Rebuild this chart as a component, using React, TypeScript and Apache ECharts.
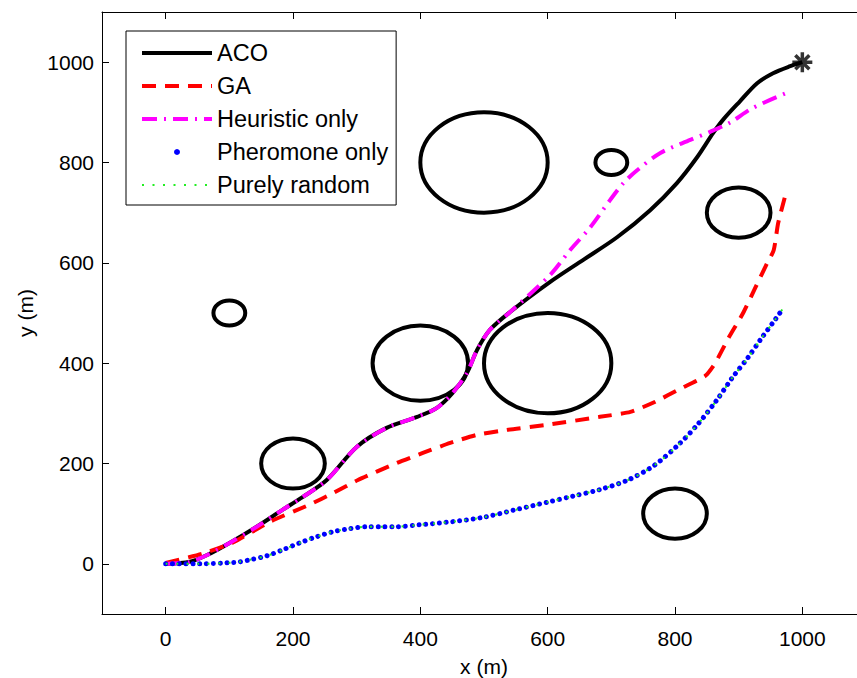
import React, { useEffect, useRef } from 'react';
import * as echarts from 'echarts';

const FONT = '"Liberation Sans", Arial, Helvetica, sans-serif';

// Obstacles: centres and radii (m)
const obstacleX = [500, 700, 100, 400, 600, 200, 800, 900];
const obstacleY = [800, 800, 500, 400, 400, 200, 100, 700];
const obstacleR = [100, 25, 25, 75, 100, 50, 50, 50];

// Goal
const goal = [1000, 1000];

// Paths
const acoPath = [
  [0, 0], [38, 4], [66, 18], [101, 42], [143, 74], [184, 108], [215, 133], [253, 167],
  [300, 233], [347, 271], [395, 293], [426, 311], [451, 341], [473, 380], [489, 426],
  [509, 466], [541, 502], [604, 562], [656, 606], [709, 651], [761, 705], [803, 759],
  [835, 811], [860, 859], [876, 886], [902, 922], [929, 958], [954, 978], [981, 992],
  [1000, 1000],
];

const gaPath = [
  [0, 2], [57, 20], [105, 42], [164, 84], [226, 118], [263, 141], [302, 167], [363, 201],
  [404, 221], [447, 241], [489, 257], [536, 267], [599, 277], [682, 293], [730, 303],
  [769, 323], [808, 349], [847, 374], [863, 400], [884, 450], [907, 500], [926, 550],
  [945, 600], [955, 625], [962, 679], [973, 733],
];

const heuristicPath = [
  [0, 0], [38, 4], [66, 18], [101, 42], [143, 74], [184, 108], [215, 133], [253, 167],
  [300, 233], [347, 271], [395, 293], [426, 311], [451, 341], [473, 380], [489, 426],
  [509, 466], [541, 502], [604, 576], [635, 625], [667, 671], [698, 725], [719, 759],
  [741, 785], [777, 819], [824, 845], [855, 861], [887, 880], [921, 908], [978, 940],
];

const pheromonePath = [
  [0, 0], [20, 0], [53, 0], [97, 2], [116, 4], [132, 8], [159, 16], [184, 28], [211, 42],
  [237, 54], [263, 64], [289, 70], [316, 74], [341, 74], [360, 74], [400, 78], [450, 84],
  [500, 93], [550, 108], [600, 123], [640, 135], [682, 148], [726, 167], [766, 195],
  [805, 237], [835, 277], [866, 327], [890, 371], [914, 410], [936, 450], [958, 488],
  [969, 508],
];

const randomPath = pheromonePath;

const xTicks = { min: -100, max: 1100, step: 200 };
const yTicks = { min: -100, max: 1100, step: 200 };

const legendNames = ['ACO', 'GA', 'Heuristic only', 'Pheromone only', 'Purely random'];

export default function App() {
  const ref = useRef<HTMLDivElement>(null);

  useEffect(() => {
    const chart = echarts.init(ref.current as HTMLDivElement, null, { renderer: 'svg' });

    const obstacles = obstacleX.map((x, i) => [x, obstacleY[i], obstacleR[i]]);

    const axisCommon = {
      type: 'value',
      minInterval: xTicks.step,
      maxInterval: xTicks.step,
      splitLine: { show: false },
      axisLine: { show: true, onZero: false, lineStyle: { color: '#000', width: 1 } },
      axisTick: { show: true, inside: true, length: 7, lineStyle: { color: '#000', width: 1 } },
    };

    const fmt = (v: number) => String(v);

    chart.setOption({
      animation: false,
      backgroundColor: '#ffffff',
      textStyle: { fontFamily: FONT },
      grid: { left: 102, top: 12, width: 764, height: 602, containLabel: false, outerBoundsMode: 'none' },
      xAxis: [
        {
          ...axisCommon,
          min: xTicks.min,
          max: xTicks.max,
          position: 'bottom',
          axisLabel: {
            showMinLabel: false,
            showMaxLabel: false,
            color: '#000',
            fontSize: 21,
            fontFamily: FONT,
            margin: 14,
            formatter: fmt,
          },
          name: 'x (m)',
          nameLocation: 'middle',
          nameGap: 42,
          nameTextStyle: { color: '#000', fontSize: 21, fontFamily: FONT },
        },
        {
          ...axisCommon,
          min: xTicks.min,
          max: xTicks.max,
          position: 'top',
          axisLabel: { show: false },
        },
      ],
      yAxis: [
        {
          ...axisCommon,
          min: yTicks.min,
          max: yTicks.max,
          position: 'left',
          axisLabel: {
            showMinLabel: false,
            showMaxLabel: false,
            color: '#000',
            fontSize: 21,
            fontFamily: FONT,
            margin: 8,
            formatter: fmt,
          },
          name: 'y (m)',
          nameLocation: 'middle',
          nameGap: 66,
          nameTextStyle: { color: '#000', fontSize: 21, fontFamily: FONT },
        },
        {
          ...axisCommon,
          min: yTicks.min,
          max: yTicks.max,
          position: 'right',
          axisLabel: { show: false },
        },
      ],
      legend: {
        orient: 'vertical',
        left: 126,
        top: 31,
        padding: [10, 8, 8, 14],
        itemWidth: 70,
        itemHeight: 6,
        itemGap: 9,
        borderColor: '#000',
        borderWidth: 1,
        backgroundColor: '#fff',
        selectedMode: false,
        textStyle: { fontSize: 23.5, color: '#000', fontFamily: FONT, lineHeight: 24 },
        lineStyle: { width: 'inherit' },
        itemStyle: { opacity: 0 },
        data: [
          legendNames[0],
          legendNames[1],
          legendNames[2],
          { name: legendNames[3], icon: 'circle', itemStyle: { opacity: 1, color: '#0000ff' } },
          legendNames[4],
        ],
        z: 20,
      },
      series: [
        {
          type: 'custom',
          name: 'obstacles',
          silent: true,
          data: obstacles,
          encode: { x: 0, y: 1 },
          renderItem: (params: any, api: any) => {
            const c = api.coord([api.value(0), api.value(1)]);
            const s = api.size([api.value(2), api.value(2)]);
            return {
              type: 'ellipse',
              shape: { cx: c[0], cy: c[1], rx: s[0], ry: s[1] },
              style: { fill: 'none', stroke: '#000', lineWidth: 4 },
            };
          },
        },
        {
          type: 'line',
          name: legendNames[0],
          data: acoPath,
          symbol: 'none',
          smooth: 0.3,
          color: '#000000',
          lineStyle: { color: '#000000', width: 4 },
        },
        {
          type: 'line',
          name: legendNames[1],
          data: gaPath,
          symbol: 'none',
          smooth: 0.2,
          color: '#ff0000',
          lineStyle: { color: '#ff0000', width: 4, type: [14, 9] },
        },
        {
          type: 'line',
          name: legendNames[2],
          data: heuristicPath,
          symbol: 'none',
          smooth: 0.3,
          color: '#ff00ff',
          lineStyle: { color: '#ff00ff', width: 4, type: [15, 7, 2, 7] },
        },
        {
          type: 'line',
          name: legendNames[3],
          data: pheromonePath,
          symbol: 'none',
          smooth: 0.3,
          color: '#0000ff',
          itemStyle: { color: '#0000ff' },
          lineStyle: { color: '#0000ff', width: 5, type: [0.01, 6.8], cap: 'round' },
        },
        {
          type: 'line',
          name: legendNames[4],
          data: randomPath,
          symbol: 'none',
          smooth: 0.3,
          color: '#00ff00',
          lineStyle: { color: '#22ee22', width: 2, type: [2, 8.5] },
        },
        {
          type: 'scatter',
          name: 'goal',
          silent: true,
          data: [goal],
          symbol: 'path://M10,0L10,20M0,10L20,10M3,3L17,17M3,17L17,3',
          symbolSize: 20,
          itemStyle: { color: 'rgba(0,0,0,0)', borderColor: '#000', borderWidth: 3.5 },
          z: 10,
        },
      ],
    });

    return () => chart.dispose();
  }, []);

  return (
    <div style={{ position: 'absolute', left: 0, top: 0, width: 857, height: 678, overflow: 'hidden', background: '#fff' }}>
      <div ref={ref} style={{ width: 880, height: 678 }} />
    </div>
  );
}
